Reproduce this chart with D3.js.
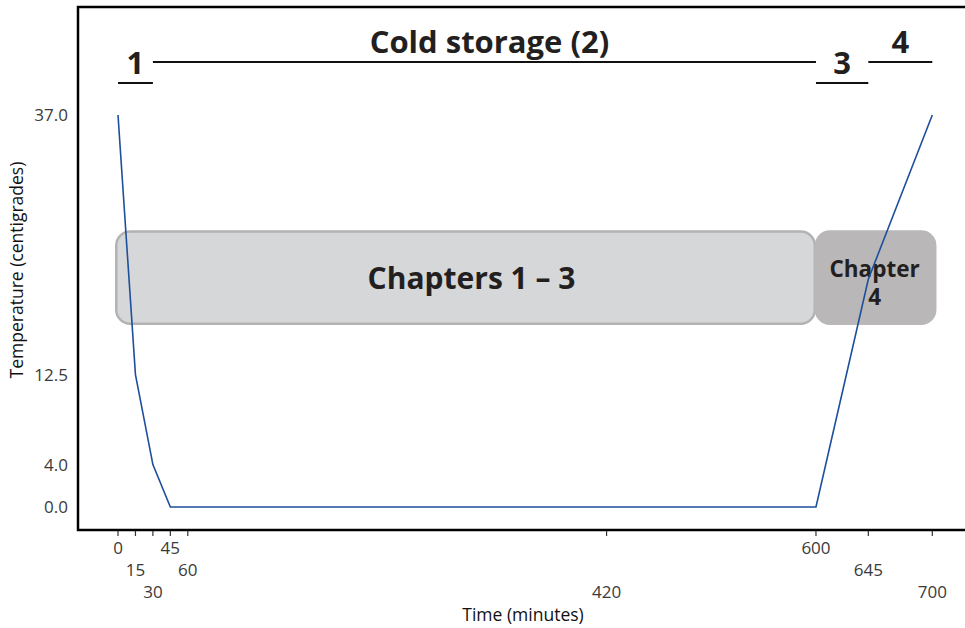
<!DOCTYPE html>
<html><head><meta charset="utf-8">
<script src="https://cdn.jsdelivr.net/npm/d3@7"></script>
<style>body{margin:0;background:#fff;} svg{display:block;}</style>
</head><body>
<svg id="c" width="965" height="628"></svg>
<script>
const times = [0, 15, 30, 45, 600, 645, 700];
const temps = [37, 12.5, 4, 0, 0, 21.5, 37];
const xTicks = [0, 15, 30, 45, 60, 420, 600, 645, 700];
const yTicks = [0, 4, 12.5, 37];
const phaseLabels = ["1", "Cold storage (2)", "3", "4"];
const phaseStart = [0, 30, 600, 645];
const phaseEnd = [30, 600, 645, 700];
const phaseLevel = ["low", "high", "low", "high"];
const boxLabels = [["Chapters 1 – 3"], ["Chapter", "4"]];
const boxStart = [-1.5, 600];
const boxEnd = [599, 702.5];
const boxLow = [17.3, 17.3];
const boxHigh = [26, 26];

const svg = d3.select("#c");
const L = 78, T = 7, R = 975, B = 530;
const x = d3.scaleLinear().domain([0, 700]).range([118, 932.3]);
const y = d3.scaleLinear().domain([0, 37]).range([507, 115]);
const font = "'Open Sans', Lato, sans-serif";

// frame
svg.append("path").attr("d", `M${R},${T}H${L}V${B}H${R}`)
  .attr("fill", "none").attr("stroke", "#000").attr("stroke-width", 2.5);

// boxes
const boxFill = ["#d6d7d9", "#b9b7b8"];
const boxStroke = ["#b3b3b3", "#b9b7b8"];
boxStart.forEach((s, i) => {
  svg.append("rect")
    .attr("x", x(s)).attr("y", y(boxHigh[i]))
    .attr("width", x(boxEnd[i]) - x(s)).attr("height", y(boxLow[i]) - y(boxHigh[i]))
    .attr("rx", 14).attr("fill", boxFill[i]).attr("stroke", boxStroke[i]).attr("stroke-width", 2.5);
});
// box labels
const cx0 = (x(boxStart[0]) + x(boxEnd[0])) / 2;
svg.append("text").attr("x", cx0 + 6).attr("y", y((boxLow[0] + boxHigh[0]) / 2) + 11)
  .attr("text-anchor", "middle").attr("font-family", font).attr("font-weight", 700)
  .attr("font-size", 30).attr("fill", "#231f20").text(boxLabels[0][0]);
const cx1 = (x(boxStart[1]) + x(boxEnd[1])) / 2;
boxLabels[1].forEach((t, j) => {
  svg.append("text").attr("x", cx1 - 1).attr("y", 277 + j * 28)
    .attr("text-anchor", "middle").attr("font-family", font).attr("font-weight", 700)
    .attr("font-size", 22.5).attr("fill", "#231f20").text(t);
});

// line
const line = d3.line().x(d => x(d[0])).y(d => y(d[1]));
svg.append("path").datum(times.map((t, i) => [t, temps[i]]))
  .attr("d", line).attr("fill", "none").attr("stroke", "#1d4f9c").attr("stroke-width", 1.6);

// y axis labels
const yAxis = svg.append("g");
yTicks.forEach(v => {
  yAxis.append("text").attr("x", 68).attr("y", y(v) + 6).attr("text-anchor", "end")
    .attr("font-family", font).attr("font-size", 17).attr("fill", "#3a3a3a")
    .text(d3.format(".1f")(v));
});
// x axis ticks
const xAxis = svg.append("g");
xTicks.forEach((v, i) => {
  xAxis.append("line").attr("x1", x(v)).attr("x2", x(v)).attr("y1", B + 1).attr("y2", B + 6)
    .attr("stroke", "#333").attr("stroke-width", 1.2);
  xAxis.append("text").attr("x", x(v)).attr("y", 554 + (i % 3) * 22).attr("text-anchor", "middle")
    .attr("font-family", font).attr("font-size", 17).attr("fill", "#3a3a3a").text(v);
});

// axis titles
svg.append("text").attr("x", 523).attr("y", 621).attr("text-anchor", "middle")
  .attr("font-family", font).attr("font-size", 17.5).attr("fill", "#111").text("Time (minutes)");
svg.append("text").attr("transform", "translate(23,270) rotate(-90)").attr("text-anchor", "middle")
  .attr("font-family", font).attr("font-size", 17.5).attr("fill", "#111").text("Temperature (centigrades)");

// phase annotations
phaseLabels.forEach((lab, i) => {
  const ly = phaseLevel[i] === "low" ? 83 : 62;
  svg.append("line").attr("x1", x(phaseStart[i])).attr("x2", x(phaseEnd[i])).attr("y1", ly).attr("y2", ly)
    .attr("stroke", "#111").attr("stroke-width", 2);
  svg.append("text").attr("x", (x(phaseStart[i]) + x(phaseEnd[i])) / 2 + (i === 1 ? 5 : 0)).attr("y", ly - 9)
    .attr("text-anchor", "middle").attr("font-family", font).attr("font-weight", 700)
    .attr("font-size", 31).attr("fill", "#231f20").text(lab);
});
</script>
</body></html>
